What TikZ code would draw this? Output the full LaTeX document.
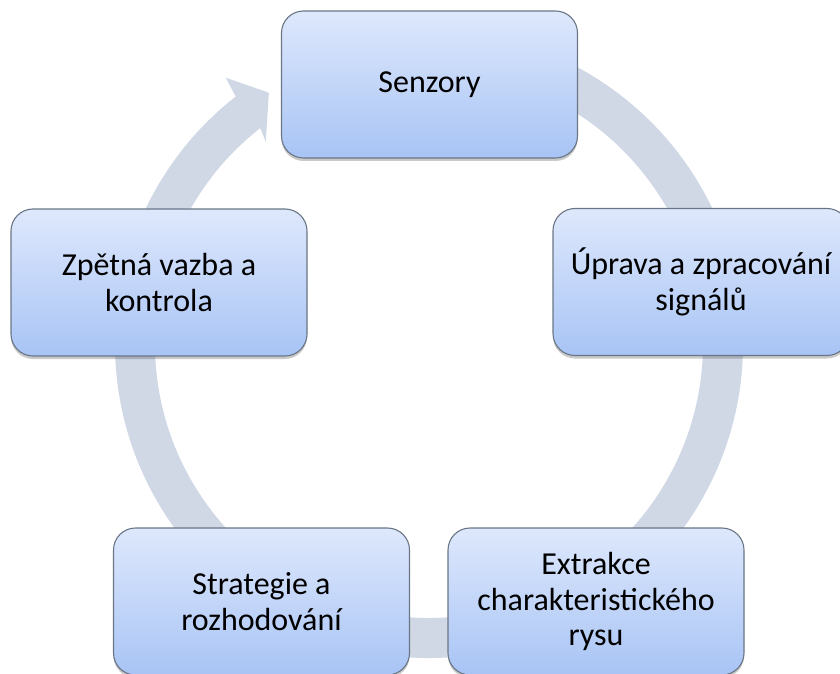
\documentclass[tikz,border=0pt]{standalone}
\usepackage{fontspec}
\setmainfont{Carlito}
\usetikzlibrary{shadows}
\definecolor{bandcol}{HTML}{D0D8E6}
\definecolor{boxtop}{HTML}{DEE8FC}
\definecolor{boxbot}{HTML}{A8C4F5}
\definecolor{boxline}{HTML}{6A7686}
\tikzset{
  stepbox/.style={draw=boxline, line width=1.1pt, top color=boxtop, bottom color=boxbot,
    rounded corners=22pt, minimum width=296pt, minimum height=147pt, inner sep=0pt,
    align=center, font=\fontsize{32pt}{35.5pt}\selectfont,
    drop shadow={shadow xshift=0pt, shadow yshift=-3pt, opacity=0.3, fill=black!70}}
}
\begin{document}
\begin{tikzpicture}[x=1pt,y=1pt]
\useasboundingbox (0,0) rectangle (840,673);
\clip (0,0) rectangle (840,673);
\coordinate (C) at (429,329);
% circular arrow band
\fill[bandcol] ([shift={(95:314pt)}]C) arc[start angle=95, end angle=-232, radius=314pt]
  -- ([shift={(127.35:335pt)}]C) -- ([shift={(122.5:298pt)}]C)
  -- ([shift={(128.9:260pt)}]C) -- ([shift={(-232:274pt)}]C)
  arc[start angle=-232, end angle=95, radius=274pt] -- cycle;
% boxes
\node[stepbox] (senz) at (429.5,588.5) {Senzory};
\node[stepbox] (upr) at (701,391) {Úprava a zpracování\\signálů};
\node[stepbox] (extr) at (596,71.5) {Extrakce\\charakteristického\\rysu};
\node[stepbox] (strat) at (261.5,71.5) {Strategie a\\rozhodování};
\node[stepbox] (zpet) at (159,390.5) {Zpětná vazba a\\kontrola};
\end{tikzpicture}
\end{document}
